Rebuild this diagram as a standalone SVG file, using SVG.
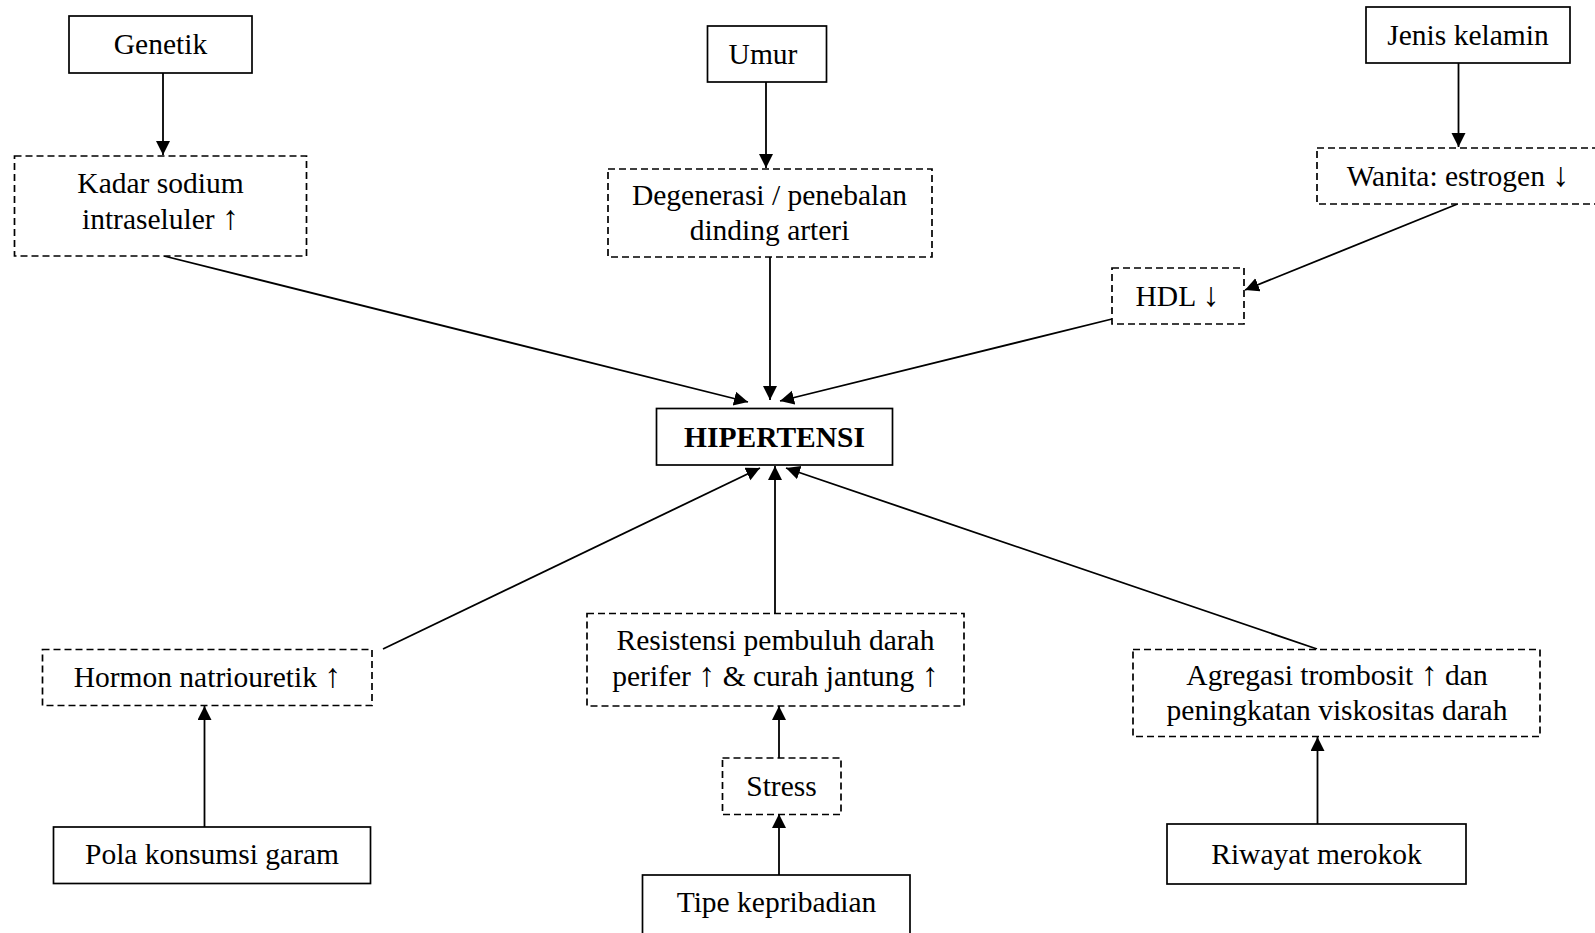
<svg xmlns="http://www.w3.org/2000/svg" width="1595" height="933" viewBox="0 0 1595 933">
<style>
.box{fill:#fff;stroke:#000;stroke-width:1.7}
.dash{fill:#fff;stroke:#000;stroke-width:1.7;stroke-dasharray:7 4}
.t{font-family:"Liberation Serif","Times New Roman",serif;font-size:29.5px;fill:#000;text-anchor:middle}
.b{font-weight:bold}
.a{font-size:34px}
.c line{stroke:#000;stroke-width:1.8;marker-end:url(#ah)}
</style>
<defs>
<marker id="ah" markerUnits="userSpaceOnUse" markerWidth="16" markerHeight="16" refX="14" refY="7" orient="auto">
<path d="M0,0 L14,7 L0,14 z" fill="#000"/>
</marker>
</defs>
<rect width="1595" height="933" fill="#fff"/>
<g class="c">
<line x1="163" y1="73" x2="163" y2="155"/>
<line x1="766" y1="82" x2="766" y2="168"/>
<line x1="1458.5" y1="63" x2="1458.5" y2="147"/>
<line x1="1457.5" y1="204" x2="1245" y2="290"/>
<line x1="164" y1="256" x2="748" y2="402"/>
<line x1="770" y1="257" x2="770" y2="400"/>
<line x1="1112" y1="319" x2="780" y2="401"/>
<line x1="383" y1="649" x2="760" y2="468"/>
<line x1="775" y1="613" x2="775" y2="466"/>
<line x1="1317" y1="649" x2="786" y2="468"/>
<line x1="204.5" y1="827" x2="204.5" y2="706"/>
<line x1="779" y1="758" x2="779" y2="706"/>
<line x1="779" y1="883" x2="779" y2="814"/>
<line x1="1317.5" y1="824" x2="1317.5" y2="737"/>
</g>
<g id="genetik"><rect class="box" x="69" y="16" width="183" height="57"/><text class="t" x="160.5" y="53.5">Genetik</text></g>
<g id="umur"><rect class="box" x="707.5" y="26" width="119" height="56"/><text class="t" x="763" y="64">Umur</text></g>
<g id="jenis"><rect class="box" x="1366" y="7" width="204" height="56"/><text class="t" x="1468" y="45">Jenis kelamin</text></g>
<g id="kadar"><rect class="dash" x="14.5" y="156" width="292" height="100"/><text class="t" x="160.5" y="193">Kadar sodium</text><text class="t" x="160.5" y="229">intraseluler <tspan class="a">↑</tspan></text></g>
<g id="degenerasi"><rect class="dash" x="608" y="169" width="324" height="88"/><text class="t" x="769.5" y="205">Degenerasi / penebalan</text><text class="t" x="769.5" y="240">dinding arteri</text></g>
<g id="wanita"><rect class="dash" x="1317" y="148" width="290" height="56"/><text class="t" x="1458" y="186">Wanita: estrogen <tspan class="a">↓</tspan></text></g>
<g id="hdl"><rect class="dash" x="1112" y="268" width="132" height="56"/><text class="t" x="1177.5" y="306">HDL <tspan class="a">↓</tspan></text></g>
<g id="hipertensi"><rect class="box" x="656.5" y="408.5" width="236" height="56.5"/><text class="t b" x="774.5" y="447">HIPERTENSI</text></g>
<g id="hormon"><rect class="dash" x="42.5" y="649.5" width="329.5" height="56"/><text class="t" x="207.5" y="687">Hormon natriouretik <tspan class="a">↑</tspan></text></g>
<g id="resistensi"><rect class="dash" x="587" y="613.5" width="377" height="92.5"/><text class="t" x="775.5" y="650">Resistensi pembuluh darah</text><text class="t" x="775.5" y="686">perifer <tspan class="a">↑</tspan> &amp; curah jantung <tspan class="a">↑</tspan></text></g>
<g id="agregasi"><rect class="dash" x="1133" y="649.5" width="407" height="87"/><text class="t" x="1337" y="685">Agregasi trombosit <tspan class="a">↑</tspan> dan</text><text class="t" x="1337" y="720">peningkatan viskositas darah</text></g>
<g id="stress"><rect class="dash" x="722.5" y="758" width="118.5" height="56.5"/><text class="t" x="781.5" y="796">Stress</text></g>
<g id="pola"><rect class="box" x="53.5" y="827" width="317" height="56.5"/><text class="t" x="212" y="863.5">Pola konsumsi garam</text></g>
<g id="tipe"><rect class="box" x="642.5" y="875" width="267.5" height="70"/><text class="t" x="776.5" y="912">Tipe kepribadian</text></g>
<g id="riwayat"><rect class="box" x="1167" y="824" width="299" height="60"/><text class="t" x="1316.5" y="863.5">Riwayat merokok</text></g>
</svg>
